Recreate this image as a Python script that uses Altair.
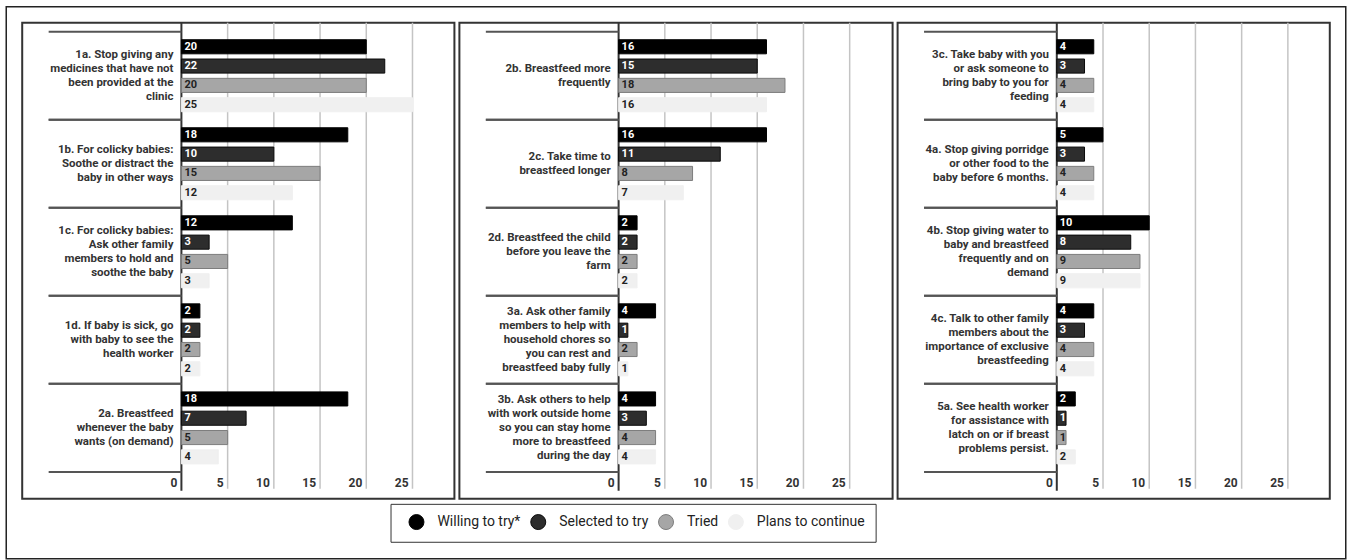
import altair as alt
import pandas as pd

# ---------------- data ----------------
series = ["Willing to try*", "Selected to try", "Tried", "Plans to continue"]

p1_labels = [
    "1a. Stop giving any\nmedicines that have not\nbeen provided at the\nclinic",
    "1b. For colicky babies:\nSoothe or distract the\nbaby in other ways",
    "1c. For colicky babies:\nAsk other family\nmembers to hold and\nsoothe the baby",
    "1d. If baby is sick, go\nwith baby to see the\nhealth worker",
    "2a. Breastfeed\nwhenever the baby\nwants (on demand)",
]
p1_willing = [20, 18, 12, 2, 18]
p1_selected = [22, 10, 3, 2, 7]
p1_tried = [20, 15, 5, 2, 5]
p1_plans = [25, 12, 3, 2, 4]

p2_labels = [
    "2b. Breastfeed more\nfrequently",
    "2c. Take time to\nbreastfeed longer",
    "2d. Breastfeed the child\nbefore you leave the\nfarm",
    "3a. Ask other family\nmembers to help with\nhousehold chores so\nyou can rest and\nbreastfeed baby fully",
    "3b. Ask others to help\nwith work outside home\nso you can stay home\nmore to breastfeed\nduring the day",
]
p2_willing = [16, 16, 2, 4, 4]
p2_selected = [15, 11, 2, 1, 3]
p2_tried = [18, 8, 2, 2, 4]
p2_plans = [16, 7, 2, 1, 4]

p3_labels = [
    "3c. Take baby with you\nor ask someone to\nbring baby to you for\nfeeding",
    "4a. Stop giving porridge\nor other food to the\nbaby before 6 months.",
    "4b. Stop giving water to\nbaby and breastfeed\nfrequently and on\ndemand",
    "4c. Talk to other family\nmembers about the\nimportance of exclusive\nbreastfeeding",
    "5a. See health worker\nfor assistance with\nlatch on or if breast\nproblems persist.",
]
p3_willing = [4, 5, 10, 4, 2]
p3_selected = [3, 3, 8, 3, 1]
p3_tried = [4, 4, 9, 4, 1]
p3_plans = [4, 4, 9, 4, 2]

ticks = [0, 5, 10, 15, 20, 25]

# ---------------- styling ----------------
FONT = "Roboto"
fills = ["#000000", "#2d2d2d", "#a6a6a6", "#f0f0f0"]
strokes = ["#000000", "#0a0a0a", "#7c7c7c", "#f0f0f0"]
PANEL_H = 477
AXIS_PX = 159.5
PPU = 9.26
SEP_LEN = 133  # px the category separators reach left of the axis
LINE_H = 14

legend = alt.Legend(
    title=" ", titleOrient="left", titlePadding=8, titleFontSize=11,
    orient="none", legendX=369, legendY=482,
    direction="horizontal", symbolType="circle", symbolSize=225,
    symbolStrokeWidth=1, labelFont=FONT, labelFontSize=14,
    labelColor="#222222", strokeColor="#333333", padding=10,
    columnPadding=7, labelOffset=13,
)


def panel(labels, willing, selected, tried, plans, width, frame=False):
    rows = []
    for s, vals in zip(series, [willing, selected, tried, plans]):
        for c, v in zip(labels, vals):
            rows.append({"category": c, "series": s, "value": v, "zero": 0})
    df = pd.DataFrame(rows)
    cats = pd.DataFrame({"category": labels, "zero": 0,
                         "sep_start": -SEP_LEN / PPU,
                         "nlines": [lab.count("\n") + 1 for lab in labels]})
    tdf = pd.DataFrame({"tick": ticks})

    xscale = alt.Scale(domain=[-AXIS_PX / PPU, (width - AXIS_PX) / PPU],
                       nice=False, zero=True)
    yscale = alt.Scale(domain=labels, paddingInner=0, paddingOuter=0.204,
                       align=0.25)
    yoff = alt.YOffset("series:N",
                       scale=alt.Scale(domain=series, paddingInner=0.27,
                                       paddingOuter=0.415))

    grid = alt.Chart(tdf).transform_filter("datum.tick > 0").mark_rule(
        color="#c4c4c4", strokeWidth=1.5).encode(
        x=alt.X("tick:Q", scale=xscale, axis=None),
        y=alt.value(0), y2=alt.value(467))

    zero_line = alt.Chart(tdf).transform_filter("datum.tick == 0").mark_rule(
        color="#333333", strokeWidth=2).encode(
        x=alt.X("tick:Q", scale=xscale, axis=None),
        y=alt.value(0), y2=alt.value(469))

    sep_top = alt.Chart(cats).mark_rule(color="#555555", strokeWidth=2).encode(
        y=alt.Y("category:N", scale=yscale, axis=None, bandPosition=0),
        x=alt.X("sep_start:Q", scale=xscale, axis=None), x2="zero:Q")
    sep_bot = alt.Chart(cats).mark_rule(color="#555555", strokeWidth=2).encode(
        y=alt.Y("category:N", scale=yscale, axis=None, bandPosition=1),
        x=alt.X("sep_start:Q", scale=xscale, axis=None), x2="zero:Q")

    bars = alt.Chart(df).mark_bar(strokeWidth=1).encode(
        y=alt.Y("category:N", scale=yscale, axis=None),
        yOffset=yoff,
        x=alt.X("value:Q", scale=xscale, axis=None, stack=None),
        fill=alt.Fill("series:N", scale=alt.Scale(domain=series, range=fills),
                      legend=legend),
        stroke=alt.Stroke("series:N",
                          scale=alt.Scale(domain=series, range=strokes),
                          legend=None),
    )

    bar_text = alt.Chart(df).mark_text(
        align="left", baseline="middle", dx=3, font=FONT, fontSize=11,
        fontWeight="bold").encode(
        y=alt.Y("category:N", scale=yscale, axis=None),
        yOffset=yoff,
        x=alt.X("zero:Q", scale=xscale, axis=None),
        text="value:Q",
        color=alt.condition(
            "datum.series == 'Willing to try*' || datum.series == 'Selected to try'",
            alt.value("#ffffff"), alt.value("#222222")),
    )

    # multi-line category labels, one layer per line count so each block
    # is vertically centred on its band
    cat_layers = []
    for n in sorted(set(cats["nlines"])):
        cat_layers.append(
            alt.Chart(cats).transform_filter(f"datum.nlines == {n}").mark_text(
                align="right", baseline="middle", dx=-8,
                dy=-(n - 1) * LINE_H / 2, font=FONT, fontSize=11.5,
                fontWeight="bold", lineBreak="\n", lineHeight=LINE_H,
                color="#333333").encode(
                y=alt.Y("category:N", scale=yscale, axis=None),
                x=alt.X("zero:Q", scale=xscale, axis=None),
                text="category:N",
            )
        )

    tick_text = alt.Chart(tdf).mark_text(
        align="right", baseline="middle", dx=-4, font=FONT, fontSize=12,
        fontWeight="bold", color="#333333").encode(
        x=alt.X("tick:Q", scale=xscale, axis=None),
        y=alt.value(461),
        text="tick:Q",
    )

    layers = [grid, zero_line, sep_top, sep_bot, bars, bar_text] + \
        cat_layers + [tick_text]
    if frame:
        fr = alt.Chart(pd.DataFrame({"f": [0]})).mark_rect(
            fillOpacity=0, stroke="#222222", strokeWidth=1.5).encode(
            x=alt.value(-16), x2=alt.value(1326),
            y=alt.value(-16), y2=alt.value(537))
        layers = [fr] + layers
    return alt.layer(*layers).properties(width=width, height=PANEL_H)


c1 = panel(p1_labels, p1_willing, p1_selected, p1_tried, p1_plans, 433,
           frame=True)
c2 = panel(p2_labels, p2_willing, p2_selected, p2_tried, p2_plans, 434)
c3 = panel(p3_labels, p3_willing, p3_selected, p3_tried, p3_plans, 433)

chart = alt.hconcat(c1, c2, c3, spacing=5, bounds="flush").properties(
    padding={"left": 4.25, "top": 4.25, "right": 3.25, "bottom": 1.25},
    background="white",
).configure_view(stroke="#333333", strokeWidth=2)

chart.save("out.html", embed_options={"renderer": "svg", "actions": False})
